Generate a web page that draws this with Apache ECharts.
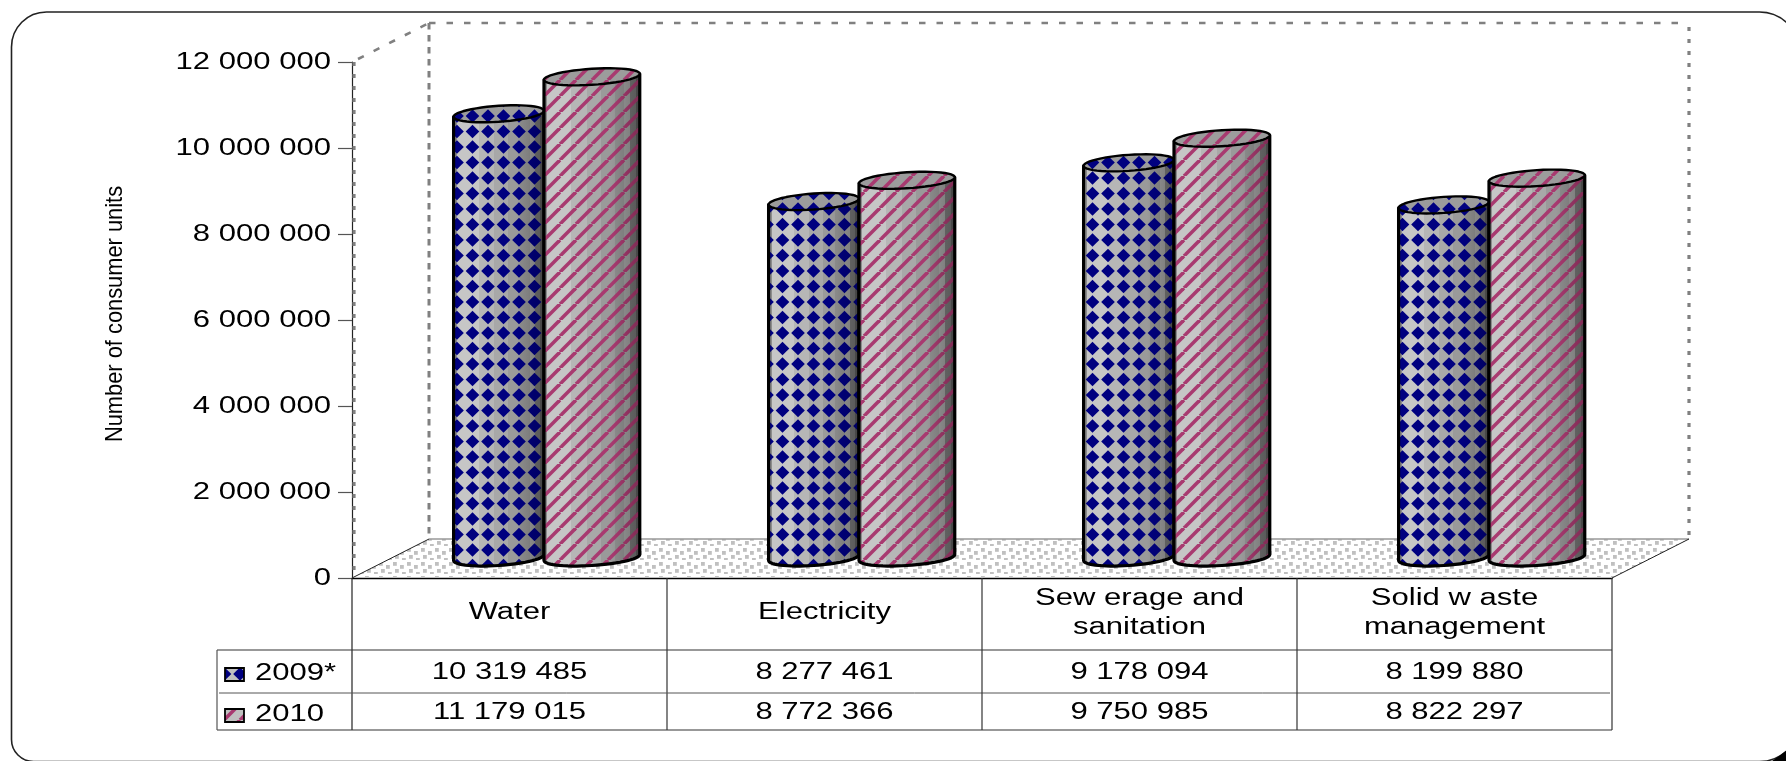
<!DOCTYPE html>
<html>
<head>
<meta charset="utf-8">
<style>html,body{margin:0;padding:0;background:#fff}#chart{width:1786px;height:761px}</style>
<script src="https://cdn.jsdelivr.net/npm/echarts@6/dist/echarts.min.js"></script>
</head>
<body>
<div id="chart"></div>
<script>
const categories = ["Water", "Electricity", "Sew erage and\nsanitation", "Solid w aste\nmanagement"];
const seriesNames = ["2009*", "2010"];
const values2009 = [10319485, 8277461, 9178094, 8199880];
const values2010 = [11179015, 8772366, 9750985, 8822297];
const yTicks = [0, 2000000, 4000000, 6000000, 8000000, 10000000, 12000000];
const yTitle = "Number of consumer units";

const FONT = '23px "Liberation Sans", Arial, sans-serif';
const SX = 1.35;
const DEPTH_X = 77, DEPTH_Y = 39;
const NAVY = '#000080', PINK = '#a83a70';

function tile(w, h, draw) {
  const c = document.createElement('canvas');
  c.width = w; c.height = h;
  draw(c.getContext('2d'));
  return c;
}
const diamondTile = tile(31, 31, g => {
  g.fillStyle = NAVY;
  [[7.5, 7.5], [23, 7.5], [7.5, 23], [23, 23]].forEach(([x, y]) => {
    g.beginPath();
    g.moveTo(x - 6.8, y); g.lineTo(x, y - 6.8); g.lineTo(x + 6.8, y); g.lineTo(x, y + 6.8);
    g.closePath(); g.fill();
  });
});
const stripeTile = tile(16, 16, g => {
  g.strokeStyle = PINK; g.lineWidth = 3.6;
  [-16, 0, 16, 32].forEach(o => {
    g.beginPath(); g.moveTo(o - 16, 16); g.lineTo(o, 0); g.stroke();
  });
});
const dotTile = tile(14, 14, g => {
  g.fillStyle = '#c0c0c0';
  [[1, 2], [8, 5], [3, 9], [10, 12]].forEach(([x, y]) => g.fillRect(x, y, 3.8, 3.8));
});
const pat = img => ({ image: img, repeat: 'repeat' });

const facets = [[0, '#8c8c8c'], [.035, '#c6c6c6'], [.28, '#b6b6b6'], [.45, '#a8a8a8'], [.6, '#9a9a9a'], [.74, '#8e8e8e'], [.84, '#9a9a9a'], [.9, '#747474'], [.96, '#5c5c5c']];
const stops = [];
facets.forEach((f, i) => {
  stops.push({ offset: f[0], color: f[1] });
  const next = i + 1 < facets.length ? facets[i + 1][0] : 1;
  stops.push({ offset: next, color: f[1] });
});
const shade = { type: 'linear', x: 0, y: 0, x2: 1, y2: 0, colorStops: stops };
const darken = { type: 'linear', x: 0, y: 0, x2: 1, y2: 0, colorStops: [
  { offset: 0, color: 'rgba(0,0,0,0)' }, { offset: .7, color: 'rgba(0,0,0,0)' }, { offset: 1, color: 'rgba(0,0,0,.25)' }] };

function cylinder(tileImg, isLeft) {
  return function (params, api) {
    const band = api.size([1, 0])[0];
    const idx = api.value(0);
    const top = api.coord([idx, api.value(1)]);
    const base = api.coord([idx, 0]);
    const w = band * (isLeft ? 0.287 : 0.304);
    const split = top[0] + 34.5;
    const cx = split + (isLeft ? -w / 2 : w / 2);
    const yT = top[1] - DEPTH_Y / 2 - 1, yB = base[1] - DEPTH_Y / 2 - 1;
    const rx = w / 2, ry = 8, tilt = 3;
    const pt = (t, cy) => [cx + rx * Math.cos(t), cy + ry * Math.sin(t) - tilt * Math.cos(t)];
    const side = [pt(Math.PI, yT)];
    for (let i = 0; i <= 30; i++) side.push(pt(Math.PI - i * Math.PI / 30, yB));
    side.push(pt(0, yT));
    const lid = [];
    for (let i = 0; i < 48; i++) lid.push(pt(i * Math.PI * 2 / 48, yT));
    return { type: 'group', silent: true, children: [
      { type: 'polygon', shape: { points: side }, style: { fill: shade } },
      { type: 'polygon', shape: { points: side }, style: { fill: pat(tileImg) } },
      { type: 'polygon', shape: { points: side }, style: { fill: darken } },
      { type: 'polygon', shape: { points: side }, style: { fill: 'none', stroke: '#000', lineWidth: 3.2, lineJoin: 'round' } },
      { type: 'polygon', shape: { points: lid }, style: { fill: '#9c9c9c' } },
      { type: 'polygon', shape: { points: lid }, style: { fill: pat(tileImg), stroke: '#000', lineWidth: 2.4, lineJoin: 'round' } }
    ] };
  };
}

function line(x1, y1, x2, y2, stroke, lineWidth, lineDash) {
  return { type: 'line', shape: { x1, y1, x2, y2 }, style: { stroke, lineWidth, lineDash: lineDash || null } };
}

function renderFrame(params) {
  const c = params.coordSys;
  const L = c.x, T = c.y, R = c.x + c.width, B = c.y + c.height;
  const G = '#808080';
  return { type: 'group', silent: true, children: [
    { type: 'polygon', shape: { points: [[L, B], [L + DEPTH_X, B - DEPTH_Y], [R + DEPTH_X, B - DEPTH_Y], [R, B]] }, style: { fill: pat(dotTile) } },
    line(L + DEPTH_X, B - DEPTH_Y, R + DEPTH_X, B - DEPTH_Y, '#999', 1.5),
    line(L + 2, T, L + 2, B, G, 3.2, [4, 8]),
    line(L + DEPTH_X, T - DEPTH_Y, L + DEPTH_X, B - DEPTH_Y, G, 3, [6.5, 5.5]),
    line(L + DEPTH_X, T - DEPTH_Y, R + DEPTH_X, T - DEPTH_Y, G, 2.6, [6.5, 11]),
    line(R + DEPTH_X, T - DEPTH_Y + 4, R + DEPTH_X, B - DEPTH_Y, G, 3.2, [4, 8]),
    line(L + 6, T - 3, L + DEPTH_X, T - DEPTH_Y, G, 2.6, [6.5, 11]),
    line(L, B, L + DEPTH_X, B - DEPTH_Y, '#222', 1),
    line(R, B, R + DEPTH_X, B - DEPTH_Y, '#222', 1)
  ] };
}

function label(text, x, y, align) {
  return { type: 'text', x, y, scaleX: SX, silent: true,
    style: { text, font: FONT, fill: '#000', align: align || 'center', verticalAlign: 'middle' } };
}
const fmt = v => String(v).replace(/\B(?=(\d{3})+$)/g, ' ');

function renderYLabel(params, api) {
  const p = api.coord([0, api.value(1)]);
  return label(fmt(api.value(1)), params.coordSys.x - 21, p[1] + 0.5, 'right');
}

function renderTable(params, api) {
  const c = params.coordSys;
  const L = c.x, R = c.x + c.width, B = c.y + c.height;
  const idx = api.value(0);
  const band = api.size([1, 0])[0];
  const cx = api.coord([idx, 0])[0];
  const head = B + 72, row1 = B + 115, bottom = B + 152;
  const kids = [];
  const lines = categories[idx].split('\n');
  lines.forEach((t, i) => {
    const y = lines.length === 1 ? B + 34.5 : B + 21 + i * 29;
    kids.push(label(t, cx, y));
  });
  kids.push(label(fmt(values2009[idx]), cx, B + 95));
  kids.push(label(fmt(values2010[idx]), cx, B + 134.5));
  kids.push(line(cx + band / 2, B, cx + band / 2, bottom, '#333', 1.2));
  if (idx === 0) {
    const X0 = 217;
    kids.push(line(L, B, L, bottom, '#222', 1.2));
    kids.push(line(X0, head, R, head, '#333', 1.2));
    kids.push(line(X0 + 2, row1, R - 2, row1, '#555', 1));
    kids.push(line(X0, bottom, R, bottom, '#333', 1.2));
    kids.push(line(X0, head, X0, bottom, '#555', 1.2));
    [[B + 90, diamondTile], [B + 131, stripeTile]].forEach(([y, img], i) => {
      const r = { x: 225, y: y, width: 19, height: 13 };
      kids.push({ type: 'rect', shape: r, style: { fill: '#c0c0c0' } });
      kids.push({ type: 'rect', shape: r, style: { fill: pat(img), stroke: '#000', lineWidth: 1.8 } });
      kids.push(label(seriesNames[i], 255, y + 6, 'left'));
    });
  }
  return { type: 'group', silent: true, children: kids };
}

const chart = echarts.init(document.getElementById('chart'));
chart.setOption({
  animation: false,
  backgroundColor: '#fff',
  tooltip: { show: false },
  grid: { left: 352, right: 174, top: 62, bottom: 183 },
  xAxis: { type: 'category', data: categories,
    axisLine: { lineStyle: { color: '#000', width: 1.4 } }, axisTick: { show: false }, axisLabel: { show: false } },
  yAxis: { type: 'value', min: 0, max: 12000000, interval: 2000000,
    axisLine: { show: true, lineStyle: { color: '#222', width: 1.2 } },
    axisTick: { show: true, length: 14, lineStyle: { color: '#555', width: 1.2 } },
    axisLabel: { show: false }, splitLine: { show: false } },
  graphic: [
    { type: 'rect', z: 0, silent: true, shape: { x: 11.5, y: 12, width: 1788, height: 749.5, r: [35, 40, 40, 22] },
      style: { fill: 'none', stroke: '#222', lineWidth: 1.6 } },
    { type: 'polygon', z: 0, silent: true, shape: { points: [[1772, 761], [1786, 751], [1786, 761]] }, style: { fill: '#000' } },
    { type: 'text', silent: true, z: 10, x: 115, y: 314, rotation: Math.PI / 2, scaleX: 0.91,
      style: { text: yTitle, font: '24px "Liberation Sans", Arial, sans-serif', fill: '#000', align: 'center', verticalAlign: 'middle' } }
  ],
  series: [
    { type: 'custom', name: 'frame', z: 1, silent: true, data: [[0, 0]], renderItem: renderFrame },
    { type: 'custom', name: seriesNames[0], z: 3, silent: true, encode: { x: 0, y: 1 },
      data: values2009.map((v, i) => [i, v]), renderItem: cylinder(diamondTile, true) },
    { type: 'custom', name: seriesNames[1], z: 4, silent: true, encode: { x: 0, y: 1 },
      data: values2010.map((v, i) => [i, v]), renderItem: cylinder(stripeTile, false) },
    { type: 'custom', name: 'table', z: 5, silent: true, data: categories.map((c, i) => [i, 0]), renderItem: renderTable },
    { type: 'custom', name: 'yLabels', z: 5, silent: true, data: yTicks.map(t => [0, t]), renderItem: renderYLabel }
  ]
});
</script>
</body>
</html>
